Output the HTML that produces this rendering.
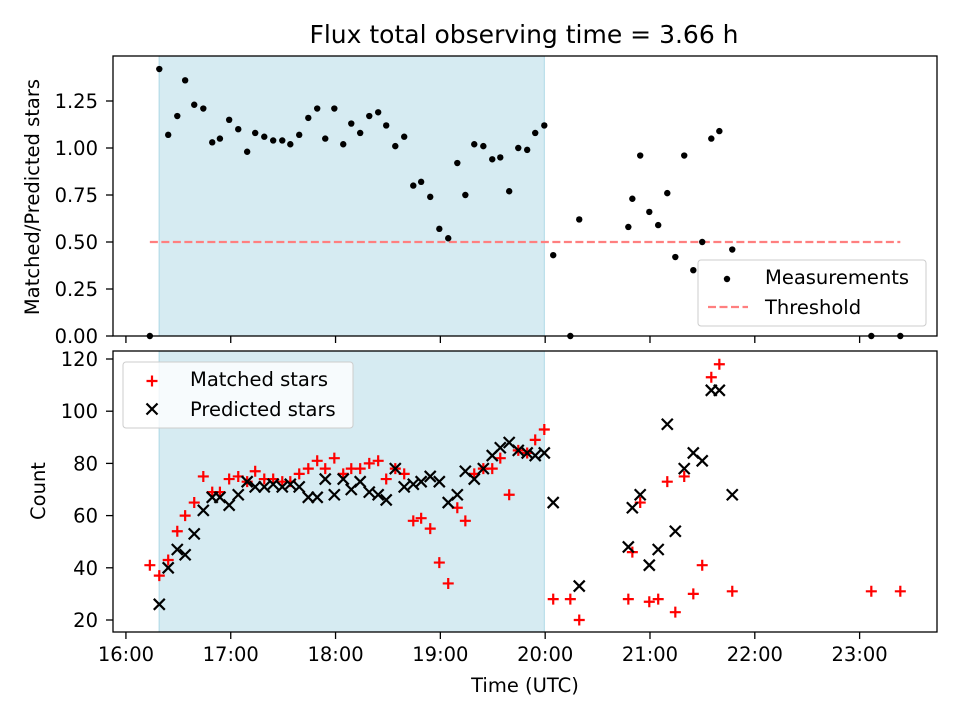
<!DOCTYPE html>
<html><head><meta charset="utf-8"><style>
body{margin:0;background:#fff}
svg{display:block;font-family:"DejaVu Sans","Liberation Sans",sans-serif}
</style></head><body>
<svg id="fig" width="960" height="720" viewBox="0 0 960 720"></svg>
<script>
// minutes after 16:00 (UTC)
const times=[13.7,19.1,24.2,29.4,33.9,39.1,44.3,49.4,53.8,59.1,64.3,69.4,74.0,79.2,84.3,89.5,94.1,99.2,104.4,109.5,114.1,119.3,124.4,129.0,134.1,139.3,144.4,149.0,154.2,159.3,164.5,169.0,174.2,179.4,184.5,189.7,194.3,199.4,204.6,209.7,214.3,219.4,224.6,229.7,234.3,239.5,244.6,254.4,259.5,287.6,289.9,294.4,299.6,304.7,309.9,314.5,319.6,324.8,329.9,335.1,339.7,347.1,426.7,443.3];
const ratio=[0,1.42,1.07,1.17,1.36,1.23,1.21,1.03,1.05,1.15,1.10,0.98,1.08,1.06,1.04,1.04,1.02,1.07,1.16,1.21,1.05,1.21,1.02,1.13,1.08,1.17,1.19,1.12,1.01,1.06,0.80,0.82,0.74,0.57,0.52,0.92,0.75,1.02,1.01,0.94,0.95,0.77,1.00,0.99,1.08,1.12,0.43,0,0.62,0.58,0.73,0.96,0.66,0.59,0.76,0.42,0.96,0.35,0.50,1.05,1.09,0.46,0,0];
const matched=[41,37,43,54,60,65,75,69,69,74,75,73,77,74,74,73,73,76,78,81,78,82,76,78,78,80,81,74,78,76,58,59,55,42,34,63,58,76,78,78,82,68,85,84,89,93,28,28,20,28,46,65,27,28,73,23,75,30,41,113,118,31,31,31];
const predicted=[null,26,40,47,45,53,62,67,67,64,68,73,71,71,72,71,72,71,67,67,74,68,74,70,73,69,68,66,78,71,72,73,75,73,65,68,77,74,78,83,86,88,85,84,83,84,65,null,33,48,63,68,41,47,95,54,78,84,81,108,108,68,null,null];
const threshold=0.5;
const shadeStart=19, shadeEnd=239.5;
const xTicks=[0,60,120,180,240,300,360,420];
const xTickLabels=["16:00","17:00","18:00","19:00","20:00","21:00","22:00","23:00"];
const topTicks=[0,0.25,0.5,0.75,1.0,1.25];
const botTicks=[20,40,60,80,100,120];

const NS="http://www.w3.org/2000/svg";
const svg=document.getElementById('fig');
function mk(tag,attrs,parent){const e=document.createElementNS(NS,tag);for(const k in attrs)e.setAttribute(k,attrs[k]);(parent||svg).appendChild(e);return e;}
const L=113,R=937,T1=56,B1=336,T2=351,B2=632;
const xMin=-7.4,xMax=464.3;
const X=m=>L+(m-xMin)/(xMax-xMin)*(R-L);
const Y1=v=>B1-v*188;
const Y2=v=>620-(v-20)*2.61;
const FS='19.5';

// title
let t=mk('text',{x:524,y:43,'text-anchor':'middle','font-size':'25'});t.textContent='Flux total observing time = 3.66 h';



function panel(T,B,name){
  const g=mk('g',{});
  
  
  const r=mk('rect',{x:X(shadeStart),y:T,width:X(shadeEnd)-X(shadeStart),height:B-T,fill:'#add8e6','fill-opacity':0.5,stroke:'#add8e6','stroke-width':1},g);
  
  
  return g;
}
const g1=panel(T1,B1,'ratio-panel');
const g2=panel(T2,B2,'count-panel');

// threshold
const th=mk('line',{x1:X(times[0]),x2:X(times[times.length-1]),y1:Y1(threshold),y2:Y1(threshold),stroke:'#ff7f7f','stroke-width':2.2,'stroke-dasharray':'8,3.5'},g1);



times.forEach((m,i)=>{
  const c=mk('circle',{cx:X(m),cy:Y1(ratio[i]),r:3.2,fill:'#000'},g1);
  
  
});
times.forEach((m,i)=>{
  const x=X(m),y=Y2(matched[i]);
  const p=mk('path',{d:`M${x-5.5},${y}h11M${x},${y-5.5}v11`,stroke:'#f00','stroke-width':2.2},g2);
  
  
});
times.forEach((m,i)=>{
  if(predicted[i]===null)return;
  const x=X(m),y=Y2(predicted[i]);
  const p=mk('path',{d:`M${x-5.5},${y-5.5}l11,11M${x-5.5},${y+5.5}l11,-11`,stroke:'#000','stroke-width':2.2},g2);
  
  
});

// frames
[[T1,B1,'ratio-axes-frame'],[T2,B2,'count-axes-frame']].forEach(([T,B,n])=>{
  const f=mk('rect',{x:L,y:T,width:R-L,height:B-T,fill:'none',stroke:'#000','stroke-width':1.3});
  
  
});
// x ticks
xTicks.forEach((m,i)=>{
  const x=X(m);
  mk('line',{x1:x,x2:x,y1:B1,y2:B1+7,stroke:'#000','stroke-width':1.3});
  mk('line',{x1:x,x2:x,y1:B2,y2:B2+7,stroke:'#000','stroke-width':1.3});
  const tx=mk('text',{x:x,y:B2+29,'text-anchor':'middle','font-size':FS});
  tx.textContent=xTickLabels[i];
  
  
});
topTicks.forEach(v=>{
  const y=Y1(v);
  mk('line',{x1:L-7,x2:L,y1:y,y2:y,stroke:'#000','stroke-width':1.3});
  const tx=mk('text',{x:L-15,y:y+7,'text-anchor':'end','font-size':FS});
  tx.textContent=v.toFixed(2);
  
  
});
botTicks.forEach(v=>{
  const y=Y2(v);
  mk('line',{x1:L-7,x2:L,y1:y,y2:y,stroke:'#000','stroke-width':1.3});
  const tx=mk('text',{x:L-15,y:y+7,'text-anchor':'end','font-size':FS});
  tx.textContent=String(v);
  
  
});
// axis labels
let a=mk('text',{x:0,y:0,transform:'translate(39,197) rotate(-90)','text-anchor':'middle','font-size':FS});a.textContent='Matched/Predicted stars';


a=mk('text',{x:0,y:0,transform:'translate(45,491) rotate(-90)','text-anchor':'middle','font-size':FS});a.textContent='Count';


a=mk('text',{x:525,y:692,'text-anchor':'middle','font-size':FS});a.textContent='Time (UTC)';



// legends
const lg1=mk('g',{});


mk('rect',{x:698,y:260,width:228,height:66,rx:3,fill:'#fff','fill-opacity':0.8,stroke:'#ccc'},lg1);
mk('circle',{cx:727,cy:279,r:3.2,fill:'#000'},lg1);
let lt=mk('text',{x:765,y:284,'font-size':FS},lg1);lt.textContent='Measurements';


mk('line',{x1:708,x2:748,y1:307,y2:307,stroke:'#ff7f7f','stroke-width':2.2,'stroke-dasharray':'8,3.5'},lg1);
lt=mk('text',{x:765,y:314,'font-size':FS},lg1);lt.textContent='Threshold';



const lg2=mk('g',{});


mk('rect',{x:123,y:362,width:230,height:66,rx:3,fill:'#fff','fill-opacity':0.8,stroke:'#ccc'},lg2);
mk('path',{d:'M146.5,381h11M152,375.5v11',stroke:'#f00','stroke-width':2.2},lg2);
lt=mk('text',{x:190,y:386,'font-size':FS},lg2);lt.textContent='Matched stars';


mk('path',{d:'M146.5,403.5l11,11M146.5,414.5l11,-11',stroke:'#000','stroke-width':2.2},lg2);
lt=mk('text',{x:190,y:416,'font-size':FS},lg2);lt.textContent='Predicted stars';


</script>
</body></html>
